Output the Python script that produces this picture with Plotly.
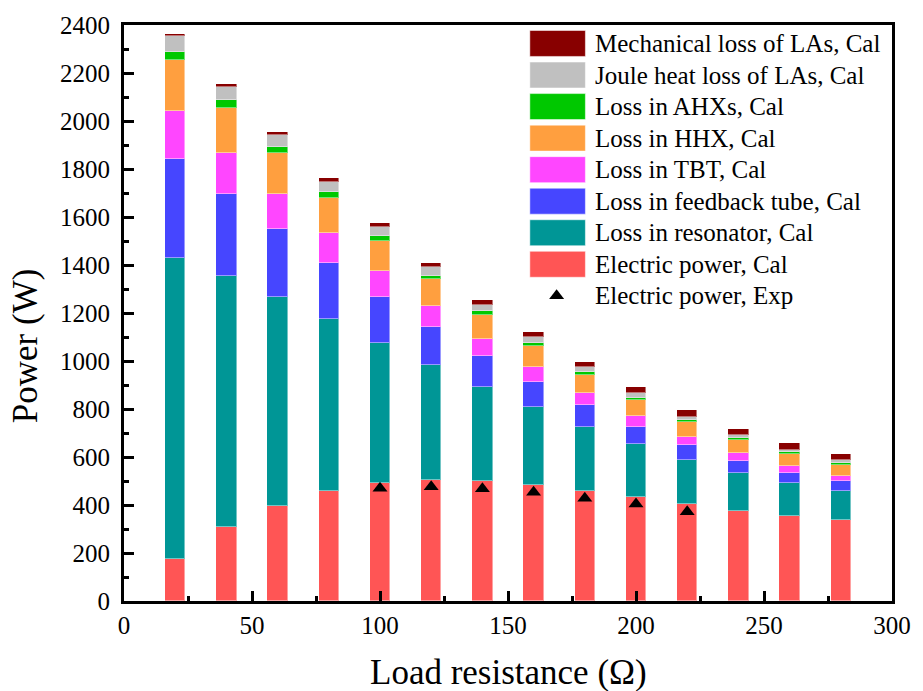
import plotly.graph_objects as go

# Load resistance (ohm) for each calculated case
resistance = [20, 40, 60, 80, 100, 120, 140, 160, 180, 200, 220, 240, 260, 280]

# Calculated power breakdown (W), bottom to top of each stack
electric_cal = [174, 307, 397, 458, 492, 503, 499, 483, 457, 432, 403, 375, 353, 336]
loss_resonator = [1254, 1046, 868, 716, 584, 479, 391, 324, 267, 221, 186, 157, 137, 121]
loss_feedback = [415, 343, 286, 236, 189, 160, 132, 105, 91, 73, 60, 53, 45, 44]
loss_tbt = [197, 172, 146, 122, 109, 86, 71, 64, 50, 45, 36, 33, 29, 21]
loss_hhx = [214, 187, 168, 147, 127, 112, 97, 88, 78, 67, 61, 53, 49, 46]
loss_ahx = [35, 33, 28, 25, 21, 15, 18, 11, 10, 9, 9, 9, 8, 8]
joule_la = [66, 55, 48, 43, 35, 35, 27, 26, 22, 20, 13, 10, 9, 10]
mech_la = [7, 12, 13, 14, 19, 20, 20, 21, 22, 23, 27, 25, 27, 25]

# Measured electric power (W)
resistance_exp = [100, 120, 140, 160, 180, 200, 220]
electric_exp = [470, 476, 468, 453, 428, 404, 372]

series_names = [
    "Electric power, Cal",
    "Loss in resonator, Cal",
    "Loss in feedback tube, Cal",
    "Loss in TBT, Cal",
    "Loss in HHX, Cal",
    "Loss in AHXs, Cal",
    "Joule heat loss of LAs, Cal",
    "Mechanical loss of LAs, Cal",
]
series_values = [electric_cal, loss_resonator, loss_feedback, loss_tbt,
                 loss_hhx, loss_ahx, joule_la, mech_la]
series_colors = ["#FF5555", "#009696", "#4646FF", "#FF46FF",
                 "#FF9F3F", "#00C800", "#C0C0C0", "#880000"]
exp_name = "Electric power, Exp"

FONT = "Liberation Serif, Times New Roman, serif"
W, H = 923, 691
ML, MR, MT, MB = 124, 25, 24, 90
PW, PH = W - ML - MR, H - MT - MB

fig = go.Figure()
for name, vals, col in zip(series_names, series_values, series_colors):
    fig.add_trace(go.Bar(
        x=resistance, y=vals, name=name, width=8,
        marker=dict(color=col, line=dict(color="rgba(255,255,255,0.45)", width=1)),
        showlegend=False,
    ))

fig.add_trace(go.Scatter(
    x=resistance_exp, y=electric_exp, mode="markers", name=exp_name,
    marker=dict(symbol="triangle-up", size=13, color="black"),
    showlegend=False,
))


def px_x(px):
    return (px - ML) / PW


def px_y(py):
    return (H - MB - py) / PH


# Hand-built legend with wide swatches, top entry first
shapes = []
annotations = []
row0, row_step = 42.5, 31.6
legend_rows = list(zip(series_names[::-1], series_colors[::-1]))
for i, (name, col) in enumerate(legend_rows):
    cy = row0 + row_step * i
    shapes.append(dict(
        type="rect", xref="paper", yref="paper",
        x0=px_x(533), x1=px_x(589), y0=px_y(cy + 13), y1=px_y(cy - 13),
        fillcolor=col, line=dict(color="rgba(255,255,255,0.5)", width=1),
        layer="above",
    ))
    annotations.append(dict(
        x=px_x(597), y=px_y(cy), xref="paper", yref="paper",
        text=name, showarrow=False, xanchor="left", yanchor="middle",
        font=dict(family=FONT, size=25, color="black"),
    ))
cy = row0 + row_step * len(legend_rows)
fig.add_trace(go.Scatter(
    x=[px_x(560)], y=[px_y(cy)], xaxis="x2", yaxis="y2", mode="markers",
    marker=dict(symbol="triangle-up", size=13, color="black"),
    showlegend=False, hoverinfo="skip",
))
annotations.append(dict(
    x=px_x(597), y=px_y(cy), xref="paper", yref="paper",
    text=exp_name, showarrow=False, xanchor="left", yanchor="middle",
    font=dict(family=FONT, size=25, color="black"),
))

# Axis titles
annotations.append(dict(
    x=px_x(511), y=px_y(673), xref="paper", yref="paper",
    text="Load resistance (Ω)", showarrow=False,
    xanchor="center", yanchor="middle",
    font=dict(family=FONT, size=35, color="black"),
))
annotations.append(dict(
    x=px_x(25), y=px_y(345), xref="paper", yref="paper",
    text="Power (W)", showarrow=False, textangle=-90,
    xanchor="center", yanchor="middle",
    font=dict(family=FONT, size=35, color="black"),
))

axis_common = dict(
    showgrid=False, zeroline=False,
    showline=True, linecolor="black", linewidth=3, mirror=True,
    ticks="inside", tickcolor="black", tickwidth=3, ticklen=10,
    tickfont=dict(family=FONT, size=25, color="black"),
)

fig.update_layout(
    width=W, height=H,
    margin=dict(l=ML, r=MR, t=MT, b=MB),
    paper_bgcolor="white", plot_bgcolor="white",
    barmode="stack", bargap=0,
    showlegend=False,
    xaxis=dict(range=[0, 300], tickvals=[0, 50, 100, 150, 200, 250, 300],
               ticklabelstandoff=0,
               minor=dict(tickvals=[25, 75, 125, 175, 225, 275], ticks="inside",
                          ticklen=5, tickwidth=3, tickcolor="black"),
               **axis_common),
    yaxis=dict(range=[0, 2400], tickvals=list(range(0, 2401, 200)),
               ticklabelstandoff=6,
               minor=dict(dtick=100, ticks="inside", ticklen=5, tickwidth=3,
                          tickcolor="black"),
               **axis_common),
    xaxis2=dict(range=[0, 1], overlaying="x", visible=False, fixedrange=True),
    yaxis2=dict(range=[0, 1], overlaying="y", visible=False, fixedrange=True),
    shapes=shapes,
    annotations=annotations,
)

fig.write_html("out.html")
